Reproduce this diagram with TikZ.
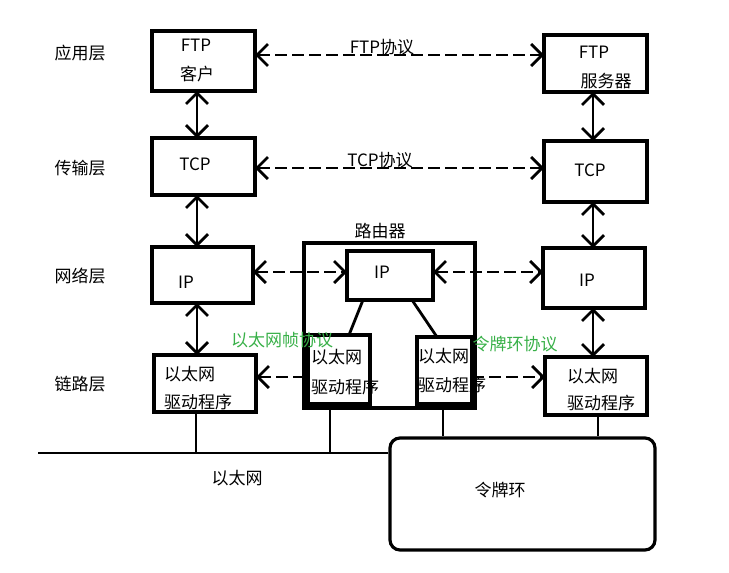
\documentclass[tikz,border=0pt]{standalone}
\usepackage{fontspec}
\setmainfont{Noto Sans CJK SC}
\usetikzlibrary{arrows.meta}
\definecolor{protogreen}{RGB}{56,176,72}
\tikzset{
  box/.style={draw, line width=3.2pt, inner sep=0pt, outer sep=0pt},
  txt/.style={font=\fontsize{17}{19}\selectfont, inner sep=0pt},
  gtxt/.style={txt, text=protogreen},
  biarrow/.style={line width=2.8pt, {Straight Barb[length=11pt,width=22pt,line width=2.8pt]}-{Straight Barb[length=11pt,width=22pt,line width=2.8pt]}},
  dasharrowboth/.style={line width=2.8pt, dash pattern=on 12pt off 5pt, {Straight Barb[length=11pt,width=22pt,line width=2.8pt]}-{Straight Barb[length=11pt,width=22pt,line width=2.8pt]}},
  dasharrowleft/.style={line width=2.8pt, dash pattern=on 12pt off 5pt, {Straight Barb[length=11pt,width=22pt,line width=2.8pt]}-},
  dasharrowright/.style={line width=2.8pt, dash pattern=on 12pt off 5pt, -{Straight Barb[length=11pt,width=22pt,line width=2.8pt]}},
  wire/.style={line width=2.8pt},
}
\begin{document}
\begin{tikzpicture}[x=1pt,y=-1pt]
\useasboundingbox (0,0) rectangle (729,573);
% layer labels
\node[txt] (l1) at (80,53) {应用层};
\node[txt] (l2) at (80,168) {传输层};
\node[txt] (l3) at (80,276) {网络层};
\node[txt] (l4) at (80,384) {链路层};
% left column
\node[box, minimum width=103pt, minimum height=60pt] (ftpL) at (203.5,61) {};
\node[box, minimum width=103pt, minimum height=57pt] (tcpL) at (203.5,166.5) {};
\node[box, minimum width=101pt, minimum height=56pt] (ipL) at (202.5,275) {};
\node[box, minimum width=102pt, minimum height=57pt] (drvL) at (205,383.5) {};
% right column
\node[box, minimum width=103pt, minimum height=57pt] (ftpR) at (595.5,63.5) {};
\node[box, minimum width=103pt, minimum height=61pt] (tcpR) at (595.5,171.5) {};
\node[box, minimum width=102pt, minimum height=60pt] (ipR) at (594,278) {};
\node[box, minimum width=102pt, minimum height=58pt] (drvR) at (596,386) {};
% router
\node[box, minimum width=171pt, minimum height=165pt] (router) at (389.5,325.5) {};
\node[txt] (routerlbl) at (380,231) {路由器};
\node[box, minimum width=86pt, minimum height=49pt] (ipM) at (390,275.5) {};
\node[box, minimum width=62pt, minimum height=69pt] (drvM1) at (339,369.5) {};
\node[box, minimum width=55pt, minimum height=67pt] (drvM2) at (444.5,370.5) {};
% token ring
\node[draw, line width=3.2pt, rounded corners=10pt, minimum width=265pt, minimum height=112pt, inner sep=0pt] (ring) at (522.5,494) {};
% box texts
\node[txt] (t1a) at (196,45) {FTP};
\node[txt] (t1b) at (197,74) {客户};
\node[txt] (t2) at (195,164) {TCP};
\node[txt] (t3) at (186,282) {IP};
\node[txt, anchor=west] (t4a) at (164,374) {以太网};
\node[txt, anchor=west] (t4b) at (164,402) {驱动程序};
\node[txt] (r1a) at (594,52) {FTP};
\node[txt] (r1b) at (606,81) {服务器};
\node[txt] (r2) at (590,170) {TCP};
\node[txt] (r3) at (587,280) {IP};
\node[txt, anchor=west] (r4a) at (567,376) {以太网};
\node[txt, anchor=west] (r4b) at (567,403) {驱动程序};
\node[txt] (m3) at (382,272) {IP};
\node[txt, anchor=west] (m1a) at (311,357) {以太网};
\node[txt, anchor=west] (m1b) at (311,387) {驱动程序};
\node[txt, anchor=west] (m2a) at (418,356) {以太网};
\node[txt, anchor=west] (m2b) at (418,385) {驱动程序};
\node[txt] (ethlbl) at (237,478) {以太网};
\node[txt] (ringlbl) at (500,490) {令牌环};
% protocol labels
\node[txt] (p1) at (382,47) {FTP协议};
\node[txt] (p2) at (380,160) {TCP协议};
\node[gtxt] (p3) at (282,340) {以太网帧协议};
\node[gtxt] (p4) at (515,344) {令牌环协议};
% column coordinates
\coordinate (colL) at (197,0);
\coordinate (colR) at (593,0);
% vertical arrows
\draw[biarrow] (ftpL.south -| colL) -- (tcpL.north -| colL);
\draw[biarrow] (tcpL.south -| colL) -- (ipL.north -| colL);
\draw[biarrow] (ipL.south -| colL) -- (drvL.north -| colL);
\draw[biarrow] (ftpR.south -| colR) -- (tcpR.north -| colR);
\draw[biarrow] (tcpR.south -| colR) -- (ipR.north -| colR);
\draw[biarrow] (ipR.south -| colR) -- (drvR.north -| colR);
% horizontal dashed arrows
\coordinate (yftp) at (0,55);
\coordinate (ytcp) at (0,168);
\coordinate (yip) at (0,272);
\coordinate (ydrv) at (0,377);
\draw[dasharrowboth] (ftpL.east |- yftp) -- (ftpR.west |- yftp);
\draw[dasharrowboth] (tcpL.east |- ytcp) -- (tcpR.west |- ytcp);
\draw[dasharrowboth] (ipL.east |- yip) -- (ipM.west |- yip);
\draw[dasharrowboth] (ipM.east |- yip) -- (ipR.west |- yip);
\draw[dasharrowleft] (drvL.east |- ydrv) -- (router.west |- ydrv);
\draw[dasharrowright] (drvM2.east |- ydrv) -- (drvR.west |- ydrv);
% router internal links
\coordinate (a1) at (363,300);
\coordinate (a2) at (412,300);
\draw[wire] (a1) -- (349,335);
\draw[wire] (a2) -- (437,337);
% network drops
\coordinate (ethY) at (0,453);
\coordinate (ethStart) at (38,453);
\coordinate (xd1) at (196,0);
\coordinate (xd2) at (330,0);
\coordinate (xd3) at (443,0);
\coordinate (xd4) at (598,0);
\draw[wire] (ethStart) -- (ring.west |- ethY);
\draw[wire] (drvL.south -| xd1) -- (ethY -| xd1);
\draw[wire] (router.south -| xd2) -- (ethY -| xd2);
\draw[wire] (router.south -| xd3) -- (ring.north -| xd3);
\draw[wire] (drvR.south -| xd4) -- (ring.north -| xd4);
\end{tikzpicture}
\end{document}
